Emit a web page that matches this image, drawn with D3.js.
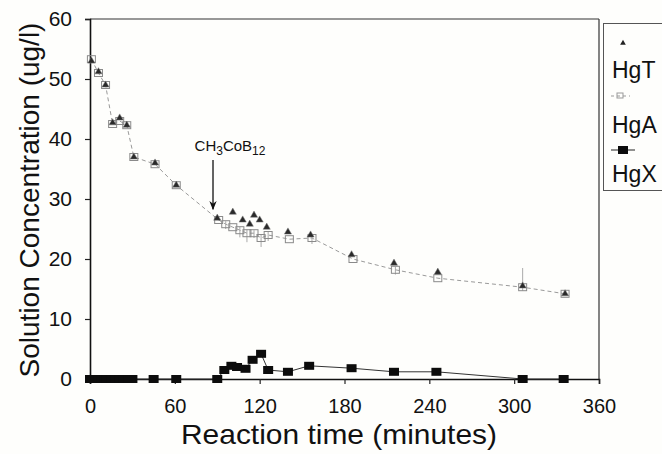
<!DOCTYPE html>
<html>
<head>
<meta charset="utf-8">
<script src="https://cdn.jsdelivr.net/npm/d3@7/dist/d3.min.js"></script>
<style>
  html, body { margin: 0; padding: 0; background: #fefefc; }
  svg { display: block; }
  text { font-family: "Liberation Sans", Arial, sans-serif; fill: #111; }
</style>
</head>
<body>
<div id="chart"></div>
<script>
// ---- data ----
const xTicks = [0, 60, 120, 180, 240, 300, 360];
const yTicks = [0, 10, 20, 30, 40, 50, 60];

const timeT = [1, 6, 11, 16, 21, 26, 31, 46, 61, 90, 101, 108, 113, 116, 120, 125, 140, 156, 185, 215, 246, 306, 336];
const hgT   = [53, 51.2, 49, 42.7, 43.5, 42.3, 37, 36, 32.3, 26.8, 27.8, 26.5, 25.8, 27.3, 26.5, 25.3, 24.5, 24, 20.7, 19.3, 17.8, 15.5, 14.2];

const timeA = [1, 6, 11, 16, 21, 26, 31, 46, 61, 91, 96, 101, 106, 111, 116, 121, 126, 141, 157, 186, 216, 246, 306, 336];
const hgA   = [53.3, 51, 49, 42.5, 43, 42.3, 37, 35.8, 32.3, 26.5, 25.8, 25.3, 24.8, 24.3, 24.3, 23.5, 24, 23.3, 23.5, 20, 18.2, 16.8, 15.3, 14.2];
const errAUp   = [0, 0, 0, 0, 0, 0, 0, 0, 0, 0, 0.5, 0, 0.6, 0.6, 0.5, 0.6, 0.5, 0, 0.6, 0, 0.5, 0, 3.2, 0];
const errADown = [0, 0, 0, 0, 0, 0, 0, 0, 0, 0, 0.8, 0, 1.2, 1.5, 0.8, 1.5, 1, 0, 1, 0, 0.8, 0, 0.6, 0];

const timeX = [0, 2, 4, 6, 8, 10, 12, 15, 18, 21, 24, 27, 30, 45, 61, 90, 95, 100, 104, 110, 115, 121, 126, 140, 155, 185, 215, 245, 306, 335];
const hgX   = [0, 0, 0, 0, 0, 0, 0, 0, 0, 0, 0, 0, 0, 0, 0, 0, 1.5, 2.2, 2, 1.7, 3.2, 4.2, 1.5, 1.2, 2.2, 1.8, 1.2, 1.2, 0, 0];

const seriesNames = ["HgT", "HgA", "HgX"];
const arrowX = 87, arrowY0 = 36.5, arrowY1 = 28.3;

// ---- layout ----
const W = 662, H = 454;
const svg = d3.select("#chart").append("svg").attr("width", W).attr("height", H);
svg.append("rect").attr("width", W).attr("height", H).attr("fill", "#fefefc");

const x = d3.scaleLinear().domain([0, 360]).range([90, 599]);
const y = d3.scaleLinear().domain([0, 60]).range([379, 19]);

// frame (top and right)
svg.append("line").attr("x1", x(0)).attr("x2", x(360)).attr("y1", y(60)).attr("y2", y(60))
  .attr("stroke", "#333").attr("stroke-width", 1.2);
svg.append("line").attr("x1", x(360)).attr("x2", x(360)).attr("y1", y(60)).attr("y2", y(0))
  .attr("stroke", "#333").attr("stroke-width", 1.2);

// axes
const xAxis = svg.append("g").attr("transform", `translate(0,${y(0)})`)
  .call(d3.axisBottom(x).tickValues(xTicks).tickSize(5).tickPadding(22).tickFormat(d3.format("d")));
const yAxis = svg.append("g").attr("transform", `translate(${x(0)},0)`)
  .call(d3.axisLeft(y).tickValues(yTicks).tickSize(5).tickPadding(13).tickFormat(d3.format("d")));
[xAxis, yAxis].forEach(g => {
  g.select(".domain").attr("stroke", "#111").attr("stroke-width", 1.6);
  g.selectAll(".tick line").attr("stroke", "#222").attr("stroke-width", 1.2);
  g.selectAll("text").attr("fill", "#111").style("font-family", '"Liberation Sans", Arial, sans-serif');
});
xAxis.selectAll("text").attr("font-size", 20).attr("dy", "0.35em");
yAxis.selectAll("text").attr("font-size", 21);

// axis titles
svg.append("text").attr("x", 339).attr("y", 444).attr("text-anchor", "middle")
  .attr("font-size", 28).attr("textLength", 316).attr("lengthAdjust", "spacingAndGlyphs")
  .text("Reaction time (minutes)");
svg.append("text").attr("transform", "translate(39,200) rotate(-90)").attr("text-anchor", "middle")
  .attr("font-size", 28).text("Solution Concentration (ug/l)");

// HgA dashed line + error bars + open squares
const ptsA = timeA.map((t, i) => ({t, v: hgA[i], up: errAUp[i], dn: errADown[i]}));
svg.append("path").datum(ptsA)
  .attr("d", d3.line().x(d => x(d.t)).y(d => y(d.v)))
  .attr("fill", "none").attr("stroke", "#9a9a9a").attr("stroke-width", 1).attr("stroke-dasharray", "4,3");
svg.append("g").selectAll("line").data(ptsA.filter(d => d.up + d.dn > 0)).join("line")
  .attr("x1", d => x(d.t)).attr("x2", d => x(d.t))
  .attr("y1", d => y(d.v - d.dn)).attr("y2", d => y(d.v + d.up))
  .attr("stroke", "#aaa").attr("stroke-width", 1);
svg.append("g").selectAll("rect").data(ptsA).join("rect")
  .attr("x", d => x(d.t) - 4).attr("y", d => y(d.v) - 3.5).attr("width", 8).attr("height", 7)
  .attr("fill", "none").attr("stroke", "#8a8a8a").attr("stroke-width", 1);

// HgT triangles
const ptsT = timeT.map((t, i) => [t, hgT[i]]);
svg.append("g").selectAll("path").data(ptsT).join("path")
  .attr("transform", d => `translate(${x(d[0])},${y(d[1])})`)
  .attr("d", d3.symbol().type(d3.symbolTriangle).size(22))
  .attr("fill", "#2a2a2a").attr("stroke", "#777").attr("stroke-width", 0.5);

// HgX line + squares
const ptsX = timeX.map((t, i) => [t, hgX[i]]);
svg.append("path").datum(ptsX)
  .attr("d", d3.line().x(d => x(d[0])).y(d => y(d[1])))
  .attr("fill", "none").attr("stroke", "#333").attr("stroke-width", 1);
svg.append("g").selectAll("rect").data(ptsX).join("rect")
  .attr("x", d => x(d[0]) - 5).attr("y", d => y(d[1]) - 4).attr("width", 10).attr("height", 8)
  .attr("fill", "#0c0c0c");

// annotation arrow
svg.append("defs").append("marker").attr("id", "ah").attr("viewBox", "0 0 10 10")
  .attr("refX", 9).attr("refY", 5).attr("markerWidth", 7).attr("markerHeight", 7).attr("orient", "auto")
  .append("path").attr("d", "M0,1 L10,5 L0,9 L3,5 Z").attr("fill", "#111");
svg.append("line").attr("x1", x(arrowX)).attr("x2", x(arrowX)).attr("y1", y(arrowY0)).attr("y2", y(arrowY1))
  .attr("stroke", "#111").attr("stroke-width", 1.3).attr("marker-end", "url(#ah)");
const lab = svg.append("text").attr("x", x(arrowX) + 17).attr("y", y(arrowY0) - 9).attr("text-anchor", "middle")
  .attr("font-size", 15).style("font-family", '"Liberation Sans Narrow", "Arial Narrow", sans-serif');
lab.append("tspan").text("CH");
lab.append("tspan").attr("font-size", 12).attr("dy", 4).text("3");
lab.append("tspan").attr("dy", -4).text("CoB");
lab.append("tspan").attr("font-size", 12).attr("dy", 4).text("12");

// legend
const lg = svg.append("g");
lg.append("rect").attr("x", 603.5).attr("y", 23.5).attr("width", 70).attr("height", 167)
  .attr("fill", "#fefefc").attr("stroke", "#555").attr("stroke-width", 1);
lg.append("path").attr("transform", "translate(623,43)")
  .attr("d", d3.symbol().type(d3.symbolTriangle).size(14)).attr("fill", "#222");
lg.append("line").attr("x1", 611).attr("x2", 630).attr("y1", 96).attr("y2", 96)
  .attr("stroke", "#999").attr("stroke-dasharray", "3,3");
lg.append("rect").attr("x", 617).attr("y", 93).attr("width", 6).attr("height", 5)
  .attr("fill", "none").attr("stroke", "#999");
lg.append("line").attr("x1", 611).attr("x2", 635).attr("y1", 150).attr("y2", 150)
  .attr("stroke", "#222").attr("stroke-width", 1);
lg.append("rect").attr("x", 618).attr("y", 146).attr("width", 10).attr("height", 8).attr("fill", "#0c0c0c");
const legY = [78, 133, 182];
lg.selectAll("text.leg").data(seriesNames).join("text").attr("class", "leg")
  .attr("x", 612).attr("y", (d, i) => legY[i]).attr("font-size", 23).text(d => d);
</script>
</body>
</html>
